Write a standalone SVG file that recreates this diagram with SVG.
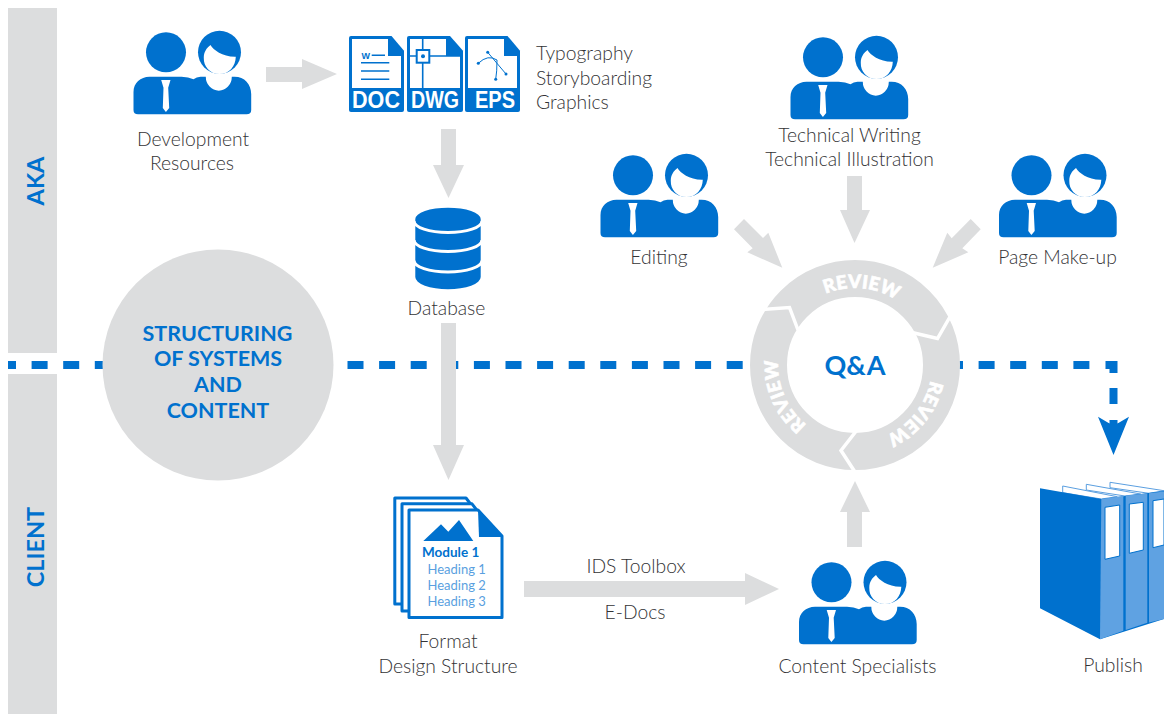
<svg xmlns="http://www.w3.org/2000/svg" width="1164" height="714" viewBox="0 0 1164 714">
<style>
.t{font-family:"Lato","Liberation Sans",sans-serif;font-weight:300;font-size:19.3px;fill:#333335;text-anchor:middle}
.l{text-anchor:start}
.band{font-family:"Lato","Liberation Sans",sans-serif;font-weight:700;font-size:23.500px;fill:#0071ce;text-anchor:middle}
.h{font-family:"Lato","Liberation Sans",sans-serif;font-weight:700;font-size:21.5px;fill:#0071ce;text-anchor:middle}
.rv{font-family:"Lato","Liberation Sans",sans-serif;font-weight:900;font-size:18.5px;fill:#fff;stroke:#fff;stroke-width:.7;text-anchor:middle;letter-spacing:.4px}
.f{font-family:"Liberation Sans",sans-serif;font-weight:700;font-size:23px;fill:#fff;text-anchor:middle}
.g{fill:#dcddde}
.b{fill:#0071ce}
.dash{fill:none;stroke:#0071ce;stroke-width:8;stroke-dasharray:16 15.6}
.solid{fill:none;stroke:#0071ce;stroke-width:8}
.m{fill:none;stroke:#0071ce;stroke-width:1.6}
.doc{fill:#fff;stroke:#0071ce;stroke-width:3;stroke-linejoin:round}
.sp{fill:#5fa2e2}
.pg{fill:#fff;stroke:#5b9fe0;stroke-width:1}
.lb{fill:#fff;stroke:#0071ce;stroke-width:1}
.hd{font-family:"Lato","Liberation Sans",sans-serif;font-weight:400;font-size:13px;fill:#5a9fe0}
</style>
<defs>
<g id="people">
<circle class="b" cx="32.500" cy="20.300" r="20"/>
<circle class="b" cx="86" cy="20.300" r="21.500"/>
<path class="b" d="M16 44.700H48Q55 45 60 47.300Q63 45 67 44.700H72.300A13 14 0 0 0 98.300 44.700H101C111 44.700 117.700 52 117.700 62V78Q117.700 82.300 113 82.300H4.500Q0 82.300 0 78V60C0 51 7 44.700 16 44.700Z"/>
<path d="M77 13C80 18 89 25 102.300 24.700C102 34 96 42 86 42C76 42 70 34 70.300 26C70.300 20 73 16 77 13Z" fill="#fff"/>
<path d="M27.700 48H37L34.700 55.700L35.700 76L32.400 80L29.300 76L30 55.700Z" fill="#fff"/>
</g>
</defs>
<rect class="g" x="8" y="8" width="49" height="345"/>
<rect class="g" x="8" y="374" width="49" height="340"/>
<text class="band" transform="translate(44,181) rotate(-90)">AKA</text>
<text class="band" transform="translate(44,547) rotate(-90)">CLIENT</text>
<g id="connectors">
<path class="dash" style="stroke-dashoffset:8" d="M8 365H103"/>
<path class="dash" d="M347.500 365H743"/>
<path class="dash" style="stroke-dashoffset:12.5" d="M959.500 365H1091"/>
<path class="solid" d="M1105.500 365H1113.500V373"/>
<path class="solid" d="M1113.500 388V404"/>
<path class="b" d="M1098 416.700L1109.500 423.500V420H1117.500V423.500L1129 416.700L1113.500 455Z"/>
<polygon class="g" points="266,67 302,67 302,59 337,74 302,89 302,82 266,82"/>
<polygon class="g" points="441,129 456,129 456,165 464,165 448.500,198 433,165 441,165"/>
<polygon class="g" points="441,323 456,323 456,445 464,445 448.500,480 433,445 441,445"/>
<polygon class="g" points="524,581 745,581 745,573 779,589 745,605 745,597 524,597"/>
<polygon class="g" points="847,547 862,547 862,512 870,512 855,481 840,512 847,512"/>
<polygon class="g" points="847,176 862,176 862,210 870,210 854.500,243 840,210 847,210"/>
<polygon class="g" points="734,229.300 744,219 763,238 768.300,232.700 782.300,267.700 747.300,252.300 752.700,248.300"/>
<polygon class="g" points="980.700,229.300 970.700,219 951.700,238.300 947.300,232.700 932.700,267.700 968.300,252.300 962.300,248.300"/>
</g>
<g id="structuring">
<circle class="g" cx="218" cy="365" r="115.500"/>
<text class="h" x="217.500" y="341">STRUCTURING</text>
<text class="h" x="218" y="366">OF SYSTEMS</text>
<text class="h" x="218" y="392">AND</text>
<text class="h" x="218" y="418">CONTENT</text>
</g>
<g id="dev"><use href="#people" x="133.500" y="32"/>
<text class="t" x="193" y="146">Development</text><text class="t" x="192" y="170">Resources</text></g>
<g id="files">
<path class="b" d="M351 36H391.500L404 50.700V110Q404 112 402 112H351Q349 112 349 110V38Q349 36 351 36Z"/>
<path d="M352 39H388V56H401V88H352Z" fill="#fff"/>
<path class="b" d="M409 36H450L463 50.700V110Q463 112 461 112H409Q407 112 407 110V38Q407 36 409 36Z"/>
<path d="M410 39H446V56H460V88H410Z" fill="#fff"/>
<path class="b" d="M467 36H507.500L520 50.700V110Q520 112 518 112H467Q465 112 465 110V38Q465 36 467 36Z"/>
<path d="M468 39H504V56H517V88H468Z" fill="#fff"/>
<text x="361.500" y="59" font-family="Liberation Sans,sans-serif" font-weight="700" font-size="9" fill="#0071ce">W</text>
<path class="m" d="M371.700 55.300H385M361 62.700H389.300M361 71H389.300M361 79.300H389.300"/>
<path class="m" d="M422.700 39V88M410 56H460"/>
<rect x="416.700" y="50" width="12.600" height="12.700" fill="#fff" stroke="#0071ce" stroke-width="2"/>
<circle class="b" cx="423" cy="56.300" r="2"/>
<path fill="none" stroke="#0071ce" stroke-width="1" d="M487.700 52.300L506 74M478.300 63.300Q488 54 497 60Q497 72 495.700 79.300"/>
<circle class="b" cx="487.700" cy="52.300" r="1.500"/><circle class="b" cx="506" cy="74" r="1.500"/><circle class="b" cx="495.700" cy="79.300" r="1.500"/><circle class="b" cx="478.300" cy="63.300" r="1.500"/>
<text class="f" x="376" y="107.500" textLength="48" lengthAdjust="spacingAndGlyphs">DOC</text>
<text class="f" x="435" y="107.500" textLength="48" lengthAdjust="spacingAndGlyphs">DWG</text>
<text class="f" x="495" y="107.500" textLength="40" lengthAdjust="spacingAndGlyphs">EPS</text>
<text class="t l" x="536" y="60">Typography</text><text class="t l" x="536" y="85">Storyboarding</text><text class="t l" x="536" y="109">Graphics</text></g>
<g id="tech"><use href="#people" x="790.500" y="37"/>
<text class="t" x="849.500" y="142">Technical Writing</text><text class="t" x="849.500" y="166">Technical Illustration</text></g>
<g id="editing"><use href="#people" x="600.500" y="155"/><text class="t" x="659" y="264">Editing</text></g>
<g id="pagemakeup"><use href="#people" x="999" y="155"/><text class="t" x="1057.500" y="264">Page Make-up</text></g>
<g id="database">
<path class="b" d="M415.300 219V277A32.700 12.300 0 0 0 480.700 277V219A32.700 11.300 0 0 0 415.300 219Z"/>
<path d="M414 221A34 11.500 0 0 0 482 221M414 240A34 11.500 0 0 0 482 240M414 260.500A34 11.500 0 0 0 482 260.500" fill="none" stroke="#fff" stroke-width="3"/>
<text class="t" x="446.500" y="315">Database</text></g>
<g id="qa">
<circle cx="855" cy="365" r="86.500" fill="none" stroke="#dcddde" stroke-width="37"/>
<path d="M762 309.500L789.500 307.500L798 330M951 315L937.500 338.500L912 332.500M857 430L841 450.500L855 472" fill="none" stroke="#fff" stroke-width="3.500"/>
<text class="h" x="855" y="375" style="font-size:27px">Q&amp;A</text>
<path id="a1" d="M791.900 320.800A77 77 0 0 1 924.800 332.400" fill="none"/>
<path id="a2" d="M926.900 337.400A77 77 0 0 1 843 441.100" fill="none"/>
<path id="a3" d="M846.300 441.500A77 77 0 0 1 793.100 319.200" fill="none"/>
<text class="rv"><textPath href="#a1" startOffset="50%">REVIEW</textPath></text>
<text class="rv"><textPath href="#a2" startOffset="50%">REVIEW</textPath></text>
<text class="rv"><textPath href="#a3" startOffset="50%">REVIEW</textPath></text>
</g>
<g id="format">
<path d="M394.800 498H466L482 519V604H394.800Z" class="doc"/>
<path d="M402 503.800H472L492 530V611H402Z" class="doc"/>
<path d="M409 510H478L502 536V617.500H409Z" class="doc"/>
<path class="b" d="M478 510L502 536V537H479Z"/>
<path class="b" d="M423.300 541L441 524.300L448.300 531.700L459 520L473.300 541Z"/>
<text x="422" y="557.300" font-family="Lato,Liberation Sans,sans-serif" font-weight="700" font-size="13.500" fill="#0071ce">Module 1</text>
<text class="hd" x="427.500" y="574.300">Heading 1</text><text class="hd" x="427.500" y="590">Heading 2</text><text class="hd" x="427.500" y="605.700">Heading 3</text>
<text class="t" x="448" y="648">Format</text><text class="t" x="448" y="673">Design Structure</text></g>
<text class="t" x="636" y="573">IDS Toolbox</text>
<text class="t" x="635" y="619">E-Docs</text>
<g id="content"><use href="#people" x="799" y="562"/><text class="t" x="857.500" y="673">Content Specialists</text></g>
<g id="publish">
<path class="pg" d="M1062.700 486L1117.300 496.700L1101.300 499L1062.700 492.700Z"/>
<path class="pg" d="M1086.300 484.300L1140.700 494L1125 496L1086.300 490Z"/>
<path class="pg" d="M1110 482.300L1164 490.700L1149 493.300L1110 487.700Z"/>
<path d="M1040 488.300L1101.300 499L1164 491V619L1100 639.300L1040 608.300Z" fill="#0071ce"/>
<path d="M1101.300 499L1123.300 496V630.700L1100 639.300Z" class="sp"/>
<path d="M1125.700 495.500L1147.300 493.500V622.700L1125.700 630Z" class="sp"/>
<path d="M1149 493.300L1164 491.500V619L1149 622.500Z" class="sp"/>
<path d="M1105 507.300L1119.700 505V556L1105 559.300Z" class="lb"/>
<path d="M1129.300 504L1143.300 502.300V550L1129.300 553.300Z" class="lb"/>
<path d="M1153 500.700L1164 499V545L1153 547.700Z" class="lb"/>
<text class="t" x="1113" y="672">Publish</text></g>
</svg>
